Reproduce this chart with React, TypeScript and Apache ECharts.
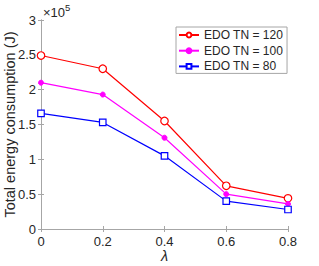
import React, { useEffect, useRef } from "react";
import * as echarts from "echarts";

const lambdas = [0, 0.2, 0.4, 0.6, 0.8];
const tn120 = [2.49, 2.30, 1.55, 0.62, 0.44];
const tn100 = [2.10, 1.93, 1.31, 0.50, 0.36];
const tn80 = [1.66, 1.53, 1.05, 0.40, 0.28];
const seriesNames = ["EDO TN = 120", "EDO TN = 100", "EDO TN = 80"];

export default function App() {
  const ref = useRef<HTMLDivElement>(null);
  useEffect(() => {
    const chart = echarts.init(ref.current!, null, { renderer: "svg" });
    const font = "Liberation Sans, Arial, sans-serif";
    const axisColor = "#a6a6a6";
    const textColor = "#262626";
    const mk = (d: number[]) => d.map((v, i) => [lambdas[i], v]);
    const fmt = (v: number) => String(Math.round(v * 10) / 10);
    chart.setOption({
      animation: false,
      backgroundColor: "#ffffff",
      textStyle: { fontFamily: font },
      grid: { left: 41, right: 31, top: 20, bottom: 37, containLabel: false, outerBoundsMode: "none" },
      legend: {
        orient: "vertical",
        left: 176,
        top: 27,
        backgroundColor: "#ffffff",
        borderColor: "#a6a6a6",
        borderWidth: 1,
        padding: [2, 4, 1, 2],
        itemWidth: 20,
        itemHeight: 6,
        itemGap: 3.7,
        textStyle: { fontSize: 12, lineHeight: 12, color: textColor, fontFamily: font },
        data: seriesNames,
      },
      xAxis: [
        {
          type: "value",
          min: 0,
          max: 0.8,
          interval: 0.2,
          name: "λ",
          nameLocation: "middle",
          nameGap: 19,
          nameMoveOverlap: false,
          nameTextStyle: { fontSize: 14.5, fontStyle: "italic", color: textColor, fontFamily: font },
          axisLine: { show: true, lineStyle: { color: axisColor } },
          axisTick: { show: true, inside: true, length: 3, lineStyle: { color: axisColor } },
          axisLabel: { fontSize: 13, color: textColor, margin: 6, formatter: fmt, showMinLabel: true, showMaxLabel: true },
          splitLine: { show: false },
        },
        {
          type: "value",
          position: "top",
          min: 0,
          max: 0.8,
          interval: 0.2,
          axisLine: { show: true, lineStyle: { color: axisColor } },
          axisTick: { show: true, inside: true, length: 3, lineStyle: { color: axisColor } },
          axisLabel: { show: false },
          splitLine: { show: false },
        },
      ],
      yAxis: [
        {
          type: "value",
          min: 0,
          max: 3,
          interval: 0.5,
          name: "Total energy consumption (J)",
          nameLocation: "middle",
          nameGap: 24,
          nameMoveOverlap: false,
          nameTextStyle: { fontSize: 14.5, color: textColor, fontFamily: font },
          axisLine: { show: true, lineStyle: { color: axisColor } },
          axisTick: { show: true, inside: true, length: 3, lineStyle: { color: axisColor } },
          axisLabel: { fontSize: 13, color: textColor, margin: 5, formatter: fmt, showMinLabel: true, showMaxLabel: true, hideOverlap: false },
          splitLine: { show: false },
        },
        {
          type: "value",
          position: "right",
          min: 0,
          max: 3,
          interval: 0.5,
          axisLine: { show: true, lineStyle: { color: axisColor } },
          axisTick: { show: true, inside: true, length: 3, lineStyle: { color: axisColor } },
          axisLabel: { show: false },
          splitLine: { show: false },
        },
      ],
      graphic: [
        {
          type: "text",
          left: 43,
          top: 2,
          style: {
            rich: {
              a: { fontSize: 13, fill: textColor, fontFamily: font, verticalAlign: "bottom" },
              b: { fontSize: 9.5, fill: textColor, fontFamily: font, verticalAlign: "top", padding: [0, 0, 7, 0] },
            },
            text: "{a|×10}{b|5}",
          },
        },
      ],
      series: [
        {
          name: seriesNames[0],
          type: "line",
          data: mk(tn120),
          symbol: "circle",
          symbolSize: 7.5,
          lineStyle: { color: "#ff0000", width: 1.2 },
          itemStyle: { color: "#ffffff", borderColor: "#ff0000", borderWidth: 1.2 },
        },
        {
          name: seriesNames[1],
          type: "line",
          data: mk(tn100),
          symbol: "circle",
          symbolSize: 5,
          lineStyle: { color: "#ff00ff", width: 1.2 },
          itemStyle: { color: "#ff00ff", borderColor: "#ff00ff", borderWidth: 1 },
        },
        {
          name: seriesNames[2],
          type: "line",
          data: mk(tn80),
          symbol: "rect",
          symbolSize: 6.5,
          lineStyle: { color: "#0000ff", width: 1.2 },
          itemStyle: { color: "#ffffff", borderColor: "#0000ff", borderWidth: 1.2 },
        },
      ],
    });
    return () => chart.dispose();
  }, []);
  return (
    <div
      ref={ref}
      style={{ position: "absolute", left: 0, top: 0, width: 319, height: 266 }}
    />
  );
}
